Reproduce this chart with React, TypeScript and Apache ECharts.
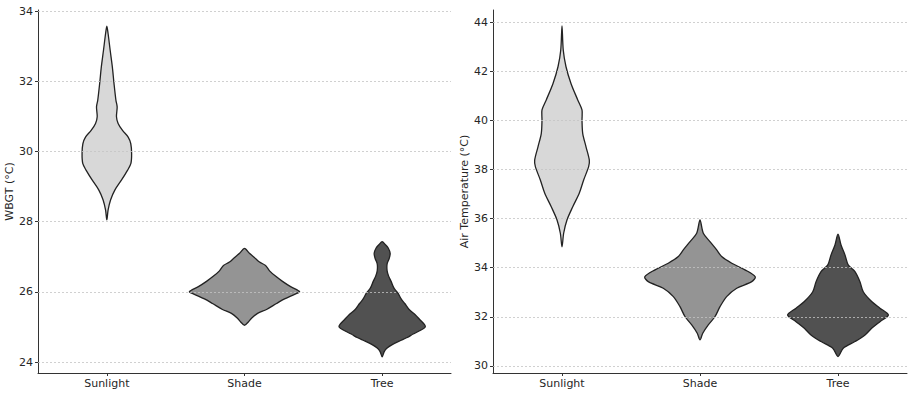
import React, { useEffect, useRef } from "react";
import * as echarts from "echarts";

const categories = ["Sunlight", "Shade", "Tree"];
const fillColors = ["#d8d8d8", "#949494", "#515151"];

// Violin outlines: [temperature value, half-width as a fraction of category spacing]
const wbgtSunlight: [number, number][] = [
  [33.57, 0], [33.36, 0.009], [32.89, 0.024], [32.41, 0.04], [31.94, 0.052], [31.46, 0.066],
  [31.27, 0.075], [30.99, 0.07], [30.8, 0.082], [30.6, 0.114], [30.41, 0.155], [30.22, 0.174],
  [29.94, 0.18], [29.66, 0.175], [29.47, 0.151], [29.19, 0.107], [28.9, 0.058], [28.62, 0.027],
  [28.33, 0.009], [28.05, 0],
];
const wbgtShade: [number, number][] = [
  [27.24, 0], [27.1, 0.036], [26.95, 0.08], [26.85, 0.109], [26.75, 0.153], [26.6, 0.182],
  [26.45, 0.225], [26.3, 0.276], [26.15, 0.335], [26.05, 0.385], [26.0, 0.4], [25.93, 0.364],
  [25.8, 0.291], [25.67, 0.233], [25.5, 0.16], [25.39, 0.095], [25.25, 0.051], [25.15, 0.029],
  [25.05, 0],
];
const wbgtTree: [number, number][] = [
  [27.43, 0], [27.35, 0.022], [27.25, 0.044], [27.1, 0.058], [26.95, 0.051], [26.8, 0.036],
  [26.6, 0.036], [26.45, 0.047], [26.3, 0.065], [26.1, 0.087], [25.97, 0.114], [25.8, 0.138],
  [25.67, 0.164], [25.5, 0.196], [25.35, 0.24], [25.2, 0.276], [25.08, 0.305], [25.0, 0.313],
  [24.9, 0.276], [24.8, 0.225], [24.7, 0.182], [24.6, 0.124], [24.5, 0.073], [24.4, 0.036],
  [24.3, 0.015], [24.15, 0],
];
const airSunlight: [number, number][] = [
  [43.84, 0], [42.86, 0.009], [42.18, 0.029], [41.5, 0.065], [40.83, 0.114], [40.42, 0.145],
  [40.01, 0.145], [39.47, 0.15], [38.92, 0.174], [38.38, 0.198], [38.11, 0.193], [37.57, 0.157],
  [37.03, 0.125], [36.48, 0.078], [35.94, 0.036], [35.4, 0.012], [34.85, 0],
];
const airShade: [number, number][] = [
  [35.94, 0], [35.4, 0.024], [35.06, 0.072], [34.72, 0.121], [34.45, 0.157], [34.18, 0.23],
  [33.91, 0.326], [33.63, 0.4], [33.43, 0.375], [33.16, 0.266], [32.82, 0.193], [32.41, 0.145],
  [32.01, 0.109], [31.67, 0.06], [31.33, 0.02], [31.06, 0],
];
const airTree: [number, number][] = [
  [35.36, 0], [34.92, 0.022], [34.51, 0.051], [34.1, 0.075], [33.84, 0.123], [33.43, 0.159],
  [33.02, 0.183], [32.62, 0.244], [32.35, 0.304], [32.07, 0.365], [31.8, 0.304], [31.53, 0.244],
  [31.26, 0.196], [30.99, 0.123], [30.72, 0.038], [30.38, 0],
];

const wbgtTicks = [24, 26, 28, 30, 32, 34];
const airTicks = [30, 32, 34, 36, 38, 40, 42, 44];
const wbgtRange = [23.69, 34.03];
const airRange = [29.71, 44.49];

const FONT = "DejaVu Sans";
const TEXT = "#262626";

function makeRender(profiles: [number, number][][]) {
  return (params: any, api: any) => {
    const idx = params.dataIndex;
    const prof = profiles[idx];
    const bw = api.size([1, 0])[0];
    const right = prof.map(([v, d]) => {
      const p = api.coord([idx, v]);
      return [p[0] + d * bw, p[1]];
    });
    const left = prof
      .slice(1, -1)
      .reverse()
      .map(([v, d]) => {
        const p = api.coord([idx, v]);
        return [p[0] - d * bw, p[1]];
      });
    return {
      type: "polygon",
      shape: { points: [...right, ...left], smooth: 0.3 },
      style: { fill: fillColors[idx], stroke: "#222", lineWidth: 1.3 },
    };
  };
}

function yAxisFor(gridIndex: number, name: string, range: number[], ticks: number[]) {
  return {
    type: "value",
    gridIndex,
    min: range[0],
    max: range[1],
    name,
    nameLocation: "middle",
    nameRotate: 90,
    nameGap: 20,
    nameTextStyle: { fontFamily: FONT, fontSize: 11, color: TEXT },
    axisLine: { show: true, lineStyle: { color: "#333", width: 1 } },
    axisTick: { show: true, length: 3, lineStyle: { color: "#333" }, customValues: ticks },
    axisLabel: { fontFamily: FONT, fontSize: 11, color: TEXT, margin: 5, customValues: ticks },
    splitLine: { show: false },
  };
}

function xAxisFor(gridIndex: number) {
  return {
    type: "category",
    gridIndex,
    data: categories,
    boundaryGap: true,
    axisLine: { show: true, lineStyle: { color: "#333", width: 1 } },
    axisTick: { show: true, alignWithLabel: true, length: 3, lineStyle: { color: "#333" } },
    axisLabel: { fontFamily: FONT, fontSize: 11, color: TEXT, margin: 5 },
    splitLine: { show: false },
  };
}

function gridLines(ticks: number[]) {
  return {
    silent: true,
    symbol: "none",
    label: { show: false },
    lineStyle: { type: [2, 2], color: "#c4c4c4", width: 0.8 },
    data: ticks.map((v) => ({ yAxis: v })),
  };
}

export default function App() {
  const ref = useRef<HTMLDivElement>(null);
  useEffect(() => {
    if (!ref.current) return;
    const chart = echarts.init(ref.current, undefined, { renderer: "svg" });
    const wbgtProfiles = [wbgtSunlight, wbgtShade, wbgtTree];
    const airProfiles = [airSunlight, airShade, airTree];
    chart.setOption({
      animation: false,
      backgroundColor: "#ffffff",
      grid: [
        { left: 38, right: 462, top: 10, bottom: 21 },
        { left: 493, right: 6, top: 10, bottom: 21 },
      ],
      xAxis: [xAxisFor(0), xAxisFor(1)],
      yAxis: [
        yAxisFor(0, "WBGT (°C)", wbgtRange, wbgtTicks),
        yAxisFor(1, "Air Temperature (°C)", airRange, airTicks),
      ],
      series: [
        {
          type: "custom",
          xAxisIndex: 0,
          yAxisIndex: 0,
          renderItem: makeRender(wbgtProfiles),
          data: wbgtProfiles.map((p, i) => [i, p[0][0]]),
          encode: { x: 0, y: 1 },
          markLine: gridLines(wbgtTicks),
        },
        {
          type: "custom",
          xAxisIndex: 1,
          yAxisIndex: 1,
          renderItem: makeRender(airProfiles),
          data: airProfiles.map((p, i) => [i, p[0][0]]),
          encode: { x: 0, y: 1 },
          markLine: gridLines(airTicks),
        },
      ],
    });
    return () => chart.dispose();
  }, []);
  return (
    <div
      ref={ref}
      style={{ position: "fixed", left: 0, top: 0, width: 913, height: 394, background: "#fff" }}
    />
  );
}
